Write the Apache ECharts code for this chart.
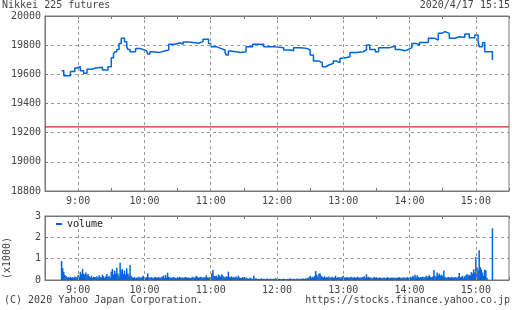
<!DOCTYPE html>
<html><head><meta charset="utf-8">
<script src="https://cdn.jsdelivr.net/npm/echarts@6/dist/echarts.min.js"></script>
<style>html,body{margin:0;padding:0;background:#fff}#c{width:512px;height:310px}</style>
</head><body><div id="c"></div>
<script>
const priceTimes = ['08:45','08:47','08:53','08:57','08:59','09:02','09:05','09:08','09:12','09:16','09:22','09:27','09:30','09:32','09:33','09:35','09:37','09:39','09:42','09:44','09:45','09:47','09:52','09:56','10:00','10:02','10:03','10:05','10:08','10:13','10:19','10:22','10:28','10:32','10:35','10:40','10:46','10:49','10:53','10:58','11:00','11:05','11:09','11:13','11:14','11:16','11:18','11:23','11:27','11:32','11:38','11:48','11:57','12:06','12:12','12:15','12:21','12:27','12:30','12:33','12:38','12:41','12:44','12:47','12:51','12:54','12:57','13:00','13:06','13:12','13:18','13:21','13:24','13:29','13:32','13:38','13:42','13:47','13:51','13:56','13:59','14:02','14:06','14:09','14:14','14:17','14:23','14:26','14:29','14:32','14:36','14:41','14:45','14:50','14:54','14:59','15:02','15:03','15:06','15:08','15:15'];
const priceValues = [19625,19590,19620,19643,19652,19625,19607,19635,19643,19648,19630,19652,19714,19740,19755,19771,19812,19847,19824,19790,19771,19755,19778,19767,19760,19755,19739,19755,19749,19762,19767,19806,19817,19806,19822,19817,19813,19824,19840,19812,19790,19778,19767,19749,19733,19760,19755,19749,19755,19790,19806,19790,19783,19767,19762,19783,19778,19767,19733,19691,19680,19652,19664,19675,19691,19680,19710,19721,19749,19755,19767,19801,19771,19755,19783,19783,19794,19771,19762,19771,19783,19812,19801,19819,19819,19847,19835,19881,19893,19881,19847,19858,19854,19877,19851,19870,19824,19790,19817,19755,19698];
const prevClose = 19240;
const volStart = '08:45';
const volValues = [
0.89,0.55,0.39,0.23,0.19,0.12,0.14,0.10,0.15,0.11,
0.13,0.10,0.16,0.12,0.14,0.23,0.15,0.39,0.28,0.52,
0.30,0.25,0.35,0.22,0.28,0.18,0.12,0.20,0.10,0.15,
0.14,0.12,0.18,0.10,0.22,0.15,0.12,0.25,0.18,0.10,
0.16,0.28,0.14,0.20,0.12,0.39,0.52,0.25,0.44,0.30,
0.58,0.31,0.20,0.81,0.44,0.52,0.28,0.44,0.25,0.55,
0.31,0.22,0.70,0.19,0.12,0.10,0.14,0.08,0.12,0.10,
0.15,0.10,0.12,0.14,0.20,0.12,0.10,0.15,0.31,0.12,
0.10,0.14,0.12,0.08,0.12,0.15,0.10,0.12,0.14,0.10,
0.12,0.15,0.20,0.10,0.24,0.12,0.34,0.15,0.10,0.12,
0.10,0.14,0.12,0.10,0.08,0.12,0.10,0.15,0.12,0.10,
0.12,0.10,0.14,0.12,0.10,0.12,0.08,0.10,0.12,0.15,
0.10,0.12,0.20,0.14,0.10,0.12,0.15,0.10,0.12,0.14,
0.10,0.22,0.12,0.10,0.14,0.12,0.30,0.47,0.20,0.18,
0.20,0.12,0.25,0.22,0.15,0.27,0.20,0.15,0.12,0.18,
0.14,0.39,0.15,0.12,0.18,0.10,0.14,0.12,0.16,0.10,
0.20,0.12,0.10,0.08,0.14,0.10,0.06,0.12,0.08,0.05,
0.08,0.10,0.06,0.05,0.20,0.06,0.08,0.05,0.06,0.04,
0.05,0.08,0.04,0.06,0.05,0.04,0.07,0.05,0.04,0.06,
0.05,0.04,0.06,0.05,0.08,0.04,0.05,0.06,0.04,0.05,
0.04,0.06,0.05,0.04,0.05,0.06,0.04,0.08,0.05,0.04,
0.06,0.05,0.04,0.07,0.05,0.06,0.04,0.05,0.08,0.06,
0.05,0.08,0.06,0.10,0.12,0.20,0.10,0.15,0.12,0.18,
0.42,0.25,0.15,0.30,0.31,0.20,0.15,0.12,0.18,0.10,
0.14,0.12,0.16,0.10,0.12,0.15,0.10,0.12,0.20,0.10,
0.12,0.14,0.10,0.12,0.15,0.20,0.12,0.10,0.14,0.12,
0.10,0.12,0.15,0.10,0.12,0.14,0.10,0.12,0.16,0.10,
0.12,0.10,0.14,0.12,0.18,0.10,0.27,0.12,0.15,0.10,
0.12,0.08,0.10,0.14,0.10,0.12,0.08,0.10,0.12,0.10,
0.08,0.10,0.12,0.08,0.10,0.14,0.10,0.08,0.12,0.10,
0.10,0.12,0.08,0.10,0.12,0.10,0.14,0.08,0.10,0.12,
0.10,0.12,0.08,0.14,0.10,0.12,0.15,0.10,0.20,0.14,
0.25,0.12,0.22,0.15,0.10,0.14,0.12,0.16,0.12,0.14,
0.20,0.12,0.18,0.22,0.14,0.12,0.16,0.47,0.20,0.15,
0.35,0.22,0.30,0.20,0.25,0.18,0.45,0.15,0.12,0.10,
0.14,0.12,0.10,0.15,0.12,0.10,0.14,0.12,0.10,0.15,
0.33,0.12,0.15,0.20,0.10,0.18,0.22,0.28,0.20,0.25,
0.22,0.37,0.30,0.50,0.35,1.08,0.60,0.45,1.39,0.60,
0.50,0.35,0.20,0.48,0.45,0.10,null,null,null,null,
2.42];
const xHourLabels = ['9:00','10:00','11:00','12:00','13:00','14:00','15:00'];
const xRange = ['08:30','15:30'];
const priceAxis = {min:18800, max:20000, step:200};
const volAxis = {min:0, max:3, step:1};

function toMin(t){const p=t.split(':').map(Number);return p[0]*60+p[1];}
const FONT = 'DejaVu Sans Mono';
const TXT = '#444';
const AX = '#777';
const GRIDC = '#999';
const BLUE = '#0064dc';
const RED = '#d42a2a';
const xMin = toMin(xRange[0]), xMax = toMin(xRange[1]);
const hourMap = {};
xHourLabels.forEach(l=>{hourMap[toMin(l)] = l;});
const gridLineStyle = {color:GRIDC, type:[3,3], width:1};
const hourLines = xHourLabels.map(l=>({xAxis:toMin(l), lineStyle:gridLineStyle}));

function xAxisBase(grid, pos, labels){
  return {
    type:'value', gridIndex:grid, position:pos, min:xMin, max:xMax, interval:30,
    axisLine:{show:true, lineStyle:{color:AX}},
    axisTick:{show:true, inside:true, length:3, lineStyle:{color:AX}},
    axisLabel:{show:labels, formatter:v=>hourMap[v]||'', color:TXT, fontFamily:FONT, fontSize:10, margin:5},
    splitLine:{show:false}
  };
}
function yAxisBase(grid, a){
  return {type:'value', gridIndex:grid, min:a.min, max:a.max, interval:a.step,
     axisLine:{show:true, lineStyle:{color:AX}}, axisTick:{show:true, inside:true, length:3, lineStyle:{color:AX}},
     axisLabel:{color:TXT, fontFamily:FONT, fontSize:10, margin:4, formatter:v=>String(v)},
     splitLine:{show:true, lineStyle:gridLineStyle}};
}

const chart = echarts.init(document.getElementById('c'), null, {renderer:'canvas'});
const tStyle = {fontSize:10, fontWeight:'normal', fontFamily:FONT, color:TXT};
chart.setOption({
  animation:false,
  backgroundColor:'#fff',
  title:[
    {text:'Nikkei 225 futures', left:2, top:0, padding:0, textStyle:tStyle},
    {text:'2020/4/17 15:15', right:2, top:0, padding:0, textStyle:tStyle},
    {text:'(C) 2020 Yahoo Japan Corporation.', left:4, top:295, padding:0, textStyle:tStyle},
    {text:'https://stocks.finance.yahoo.co.jp', right:2, top:295, padding:0, textStyle:tStyle}
  ],
  legend:{data:['volume'], left:56, top:219, padding:0, icon:'rect', itemWidth:6, itemHeight:2,
    textStyle:{fontSize:10, fontFamily:FONT, color:'#222'}},
  graphic:[{type:'text', x:7, y:258, rotation:Math.PI/2,
    style:{text:'(x1000)', font:'10px '+FONT, fill:TXT, align:'center', verticalAlign:'middle'}}],
  grid:[
    {left:45, right:1, top:16, height:175, show:true, borderColor:AX, borderWidth:1},
    {left:45, right:1, top:216, height:64, show:true, borderColor:AX, borderWidth:1}
  ],
  xAxis:[
    xAxisBase(0,'bottom',true),
    xAxisBase(0,'top',false),
    xAxisBase(1,'bottom',true),
    xAxisBase(1,'top',false)
  ],
  yAxis:[yAxisBase(0, priceAxis), yAxisBase(1, volAxis)],
  series:[
    {name:'grid0', type:'line', xAxisIndex:0, yAxisIndex:0, data:[], z:1,
     markLine:{silent:true, symbol:'none', label:{show:false}, data:hourLines}},
    {name:'grid1', type:'line', xAxisIndex:2, yAxisIndex:1, data:[], z:1,
     markLine:{silent:true, symbol:'none', label:{show:false}, data:hourLines}},
    {name:'prevClose', type:'line', xAxisIndex:0, yAxisIndex:0, z:2, showSymbol:false, symbol:'none', silent:true,
     data:[[xMin, prevClose],[xMax, prevClose]],
     lineStyle:{color:RED, width:1.2, type:'solid'}, itemStyle:{color:RED}},
    {name:'price', type:'line', xAxisIndex:0, yAxisIndex:0, step:'end', showSymbol:false, symbol:'none', z:3,
     data:priceTimes.map((t,i)=>[toMin(t), priceValues[i]]),
     lineStyle:{color:BLUE, width:1.5}, itemStyle:{color:BLUE}},
    {name:'volume', type:'bar', xAxisIndex:2, yAxisIndex:1, barWidth:1.5, z:3,
     data:volValues.map((v,i)=>[toMin(volStart)+i, v]),
     itemStyle:{color:BLUE}}
  ]
});
</script></body></html>
